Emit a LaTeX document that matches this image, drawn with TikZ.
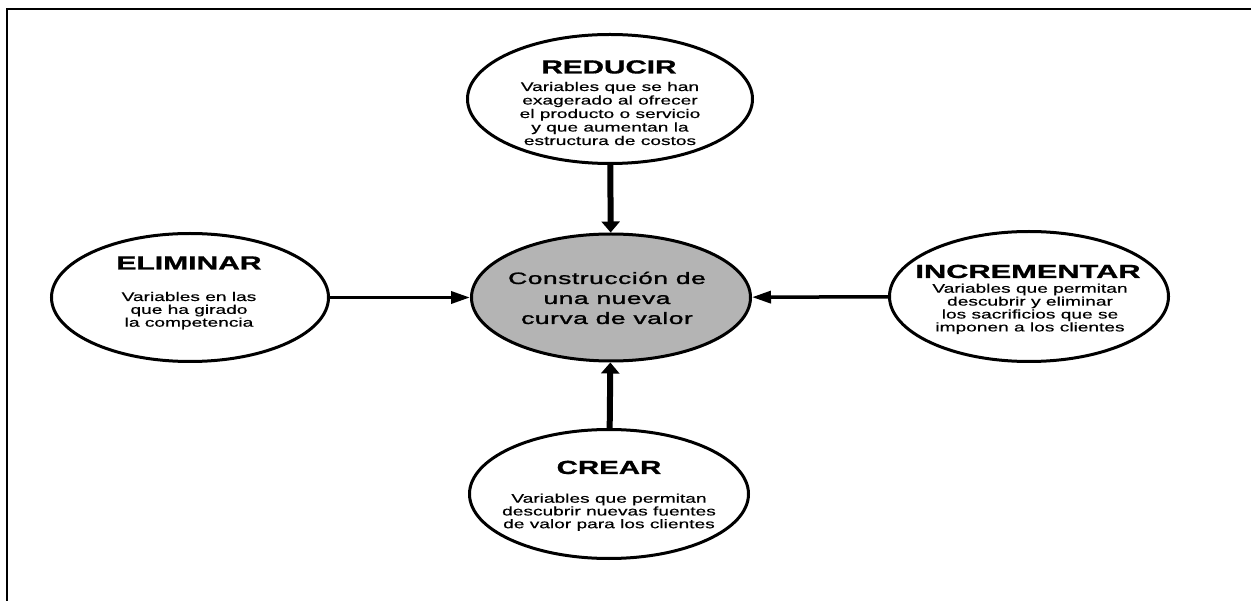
\documentclass[tikz,border=0pt]{standalone}
\usepackage{fontspec}
\usepackage{graphicx}
\usetikzlibrary{shapes.geometric,arrows.meta}

% sans faces used throughout the chart
\newfontfamily\bodyfont[FakeBold=0.4]{Liberation Sans}
\newfontfamily\headfont[FakeBold=0.8]{Liberation Sans Bold}
\newfontfamily\corefont[LetterSpace=2,FakeBold=1.2]{Liberation Sans}

% horizontally widened block of centred lines; baseline is the first line
\newcommand\txtlines[2]{\scalebox{#1}[1]{\begin{tabular}[t]{@{}c@{}}#2\end{tabular}}}
\newcommand\widettl[2]{\scalebox{#1}[1]{#2}}

\definecolor{coregray}{RGB}{180,180,180}

\begin{document}
\begin{tikzpicture}[x=1pt,y=-1pt,
  oval/.style={ellipse,draw=black,line width=3pt,fill=white,
    minimum width=279pt,minimum height=128pt,inner sep=0pt},
  ttl/.style={anchor=base,inner sep=0pt,
    font=\headfont\fontsize{19}{22}\selectfont},
  body/.style={anchor=base,inner sep=0pt},
  vflow/.style={line width=6pt,-{Triangle[length=11pt,width=18pt]}},
  hflow/.style={line width=3.5pt,-{Triangle[length=19pt,width=12pt]}},
]
\useasboundingbox (0,0) rectangle (1251,601);

% open frame: top and left rules
\coordinate (fl) at (7,601);
\coordinate (fc) at (7,9);
\coordinate (fr) at (1251,9);
\draw[line width=2.5pt] (fl) -- (fc) -- (fr);

% ellipses
\node[oval,fill=coregray,minimum height=127pt] (core) at (611,297.5) {};
\node[oval,minimum width=285pt,minimum height=129pt] (reducir) at (610,99) {};
\node[oval,minimum width=277pt] (eliminar) at (190,297.5) {};
\node[oval,minimum height=130pt] (incrementar) at (1029,296.5) {};
\node[oval,minimum height=129pt] (crear) at (609,494) {};

% connectors into the central ellipse
\draw[vflow] (reducir) -- (core);
\draw[vflow] (crear) -- (core);
\draw[hflow] (eliminar) -- (core);
\draw[hflow] (incrementar) -- (core);

% central text
\node[body,font=\corefont\fontsize{16.5}{20}\selectfont] (core-t) at (607,284)
  {\txtlines{1.6}{Construcción de\\una nueva\\curva de valor}};

% REDUCIR
\node[ttl] (reducir-t) at (609,73.5) {\widettl{1.56}{REDUCIR}};
\node[body,font=\bodyfont\fontsize{12.5}{13.5}\selectfont] (reducir-b) at (610,91)
  {\txtlines{1.53}{Variables que se han\\exagerado al ofrecer\\el producto o servicio\\y que aumentan la\\estructura de costos}};

% ELIMINAR
\node[ttl] (eliminar-t) at (189,269.5) {\widettl{1.58}{ELIMINAR}};
\node[body,font=\bodyfont\fontsize{12.5}{12.6}\selectfont] (eliminar-b) at (189,301)
  {\txtlines{1.53}{Variables en las\\que ha girado\\la competencia}};

% INCREMENTAR
\node[ttl] (incrementar-t) at (1028,278) {\widettl{1.62}{INCREMENTAR}};
\node[body,font=\bodyfont\fontsize{12.5}{12.8}\selectfont] (incrementar-b) at (1030,292.7)
  {\txtlines{1.53}{Variables que permitan\\descubrir y eliminar\\los sacrificios que se\\imponen a los clientes}};

% CREAR
\node[ttl] (crear-t) at (609,474) {\widettl{1.55}{CREAR}};
\node[body,font=\bodyfont\fontsize{12.5}{12.3}\selectfont] (crear-b) at (609,502.7)
  {\txtlines{1.53}{Variables que permitan\\descubrir nuevas fuentes\\de valor para los clientes}};
\end{tikzpicture}
\end{document}
